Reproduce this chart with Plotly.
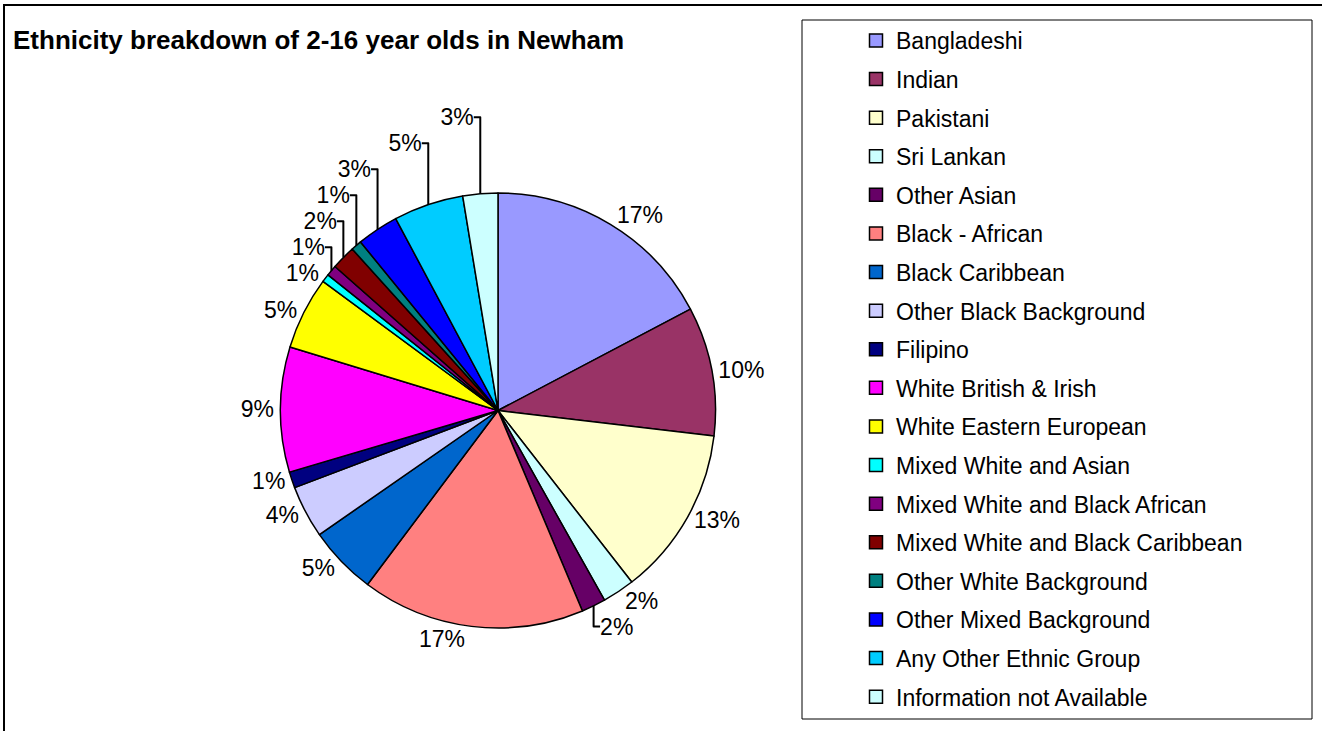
import plotly.graph_objects as go

categories = [
    "Bangladeshi", "Indian", "Pakistani", "Sri Lankan", "Other Asian",
    "Black - African", "Black Caribbean", "Other Black Background", "Filipino",
    "White British & Irish", "White Eastern European", "Mixed White and Asian",
    "Mixed White and Black African", "Mixed White and Black Caribbean",
    "Other White Background", "Other Mixed Background", "Any Other Ethnic Group",
    "Information not Available",
]
shares = [17.3, 9.6, 12.6, 2.4, 1.8, 16.6, 5.1, 3.9, 1.2, 9.3, 5.4, 0.6, 0.8,
          1.8, 0.8, 3.1, 5.2, 2.6]
colors = [
    "#9999FF", "#993366", "#FFFFCC", "#CCFFFF", "#660066", "#FF8080",
    "#0066CC", "#CCCCFF", "#000080", "#FF00FF", "#FFFF00", "#00FFFF",
    "#800080", "#800000", "#008080", "#0000FF", "#00CCFF", "#CCFFFF",
]
title_text = "Ethnicity breakdown of 2-16 year olds in Newham"

W, H = 1322, 731
FONT = "Arial, Liberation Sans, sans-serif"

fig = go.Figure()
fig.add_trace(go.Pie(
    labels=categories, values=shares, sort=False, direction="clockwise",
    rotation=0, marker=dict(colors=colors, line=dict(color="black", width=1.5)),
    texttemplate="%{percent:.0%}", textposition="outside",
    textfont=dict(family=FONT, size=23, color="black"),
    showlegend=False, hoverinfo="label+percent",
    domain=dict(x=[280.5 / W, 715.5 / W], y=[1 - 628 / H, 1 - 193 / H]),
))

# legend entries (one per category, drawn from the same arrays)
for name, col in zip(categories, colors):
    fig.add_trace(go.Scatter(
        x=[None], y=[None], mode="markers", name=name, legendgroup=name,
        marker=dict(symbol="square", size=13, color=col,
                    line=dict(color="black", width=1.5)),
        showlegend=True,
    ))

fig.update_layout(
    width=W, height=H,
    margin=dict(l=0, r=0, t=0, b=0),
    paper_bgcolor="white", plot_bgcolor="white",
    xaxis=dict(visible=False), yaxis=dict(visible=False),
    font=dict(family=FONT, color="black"),
    legend=dict(
        x=856 / W, xanchor="left", y=1 - 19 / H, yanchor="top",
        font=dict(family=FONT, size=23, color="black"),
        tracegroupgap=5.7, bgcolor="rgba(0,0,0,0)", borderwidth=0,
        itemclick=False, itemdoubleclick=False,
    ),
    annotations=[dict(
        text=title_text, xref="paper", yref="paper", x=11 / W, y=1 - 40 / H,
        xanchor="left", yanchor="middle", showarrow=False,
        font=dict(family=FONT, size=26, color="black", weight="bold"),
    )],
    shapes=[
        dict(type="rect", xref="paper", yref="paper", x0=4 / W, x1=1.05,
             y0=-0.05, y1=1 - 5 / H, line=dict(color="black", width=2),
             layer="below"),
        dict(type="rect", xref="paper", yref="paper", x0=802 / W, x1=1312 / W,
             y0=1 - 719 / H, y1=1 - 20 / H, line=dict(color="black", width=1),
             layer="below"),
    ],
)

fig.write_html(
    "out.html",
    config={"displayModeBar": False},
    post_script="document.body.style.margin='0';document.body.style.overflow='hidden';",
)
